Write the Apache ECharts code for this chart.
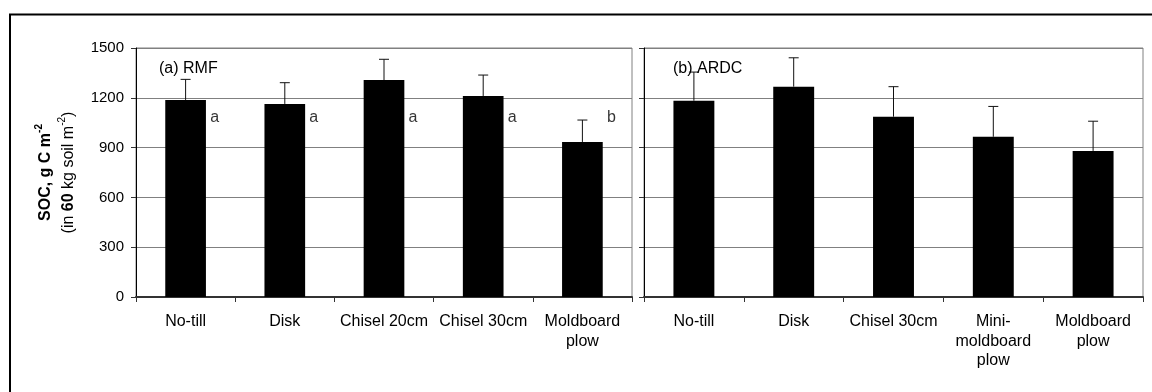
<!DOCTYPE html>
<html>
<head>
<meta charset="utf-8">
<script src="https://cdn.jsdelivr.net/npm/echarts@6/dist/echarts.min.js"></script>
<style>
  html, body { margin: 0; padding: 0; background: #fff; }
  #chart { width: 1152px; height: 392px; }
</style>
</head>
<body>
<div id="chart"></div>
<script>
// Soil organic carbon under different tillage systems, two sites
const tillageRMF = ['No-till', 'Disk', 'Chisel 20cm', 'Chisel 30cm', 'Moldboard\nplow'];
const tillageARDC = ['No-till', 'Disk', 'Chisel 30cm', 'Mini-\nmoldboard\nplow', 'Moldboard\nplow'];

// mean SOC (g C m-2) and upper error
const socRMF = [1187, 1163, 1307, 1211, 934];
const errRMF = [124, 128, 125, 126, 132];
const socARDC = [1182, 1267, 1086, 965, 880];
const errARDC = [173, 174, 181, 183, 179];

// mean-separation letters (RMF only)
const lettersRMF = ['a', 'a', 'a', 'a', 'b'];

const yMin = 0, yMax = 1500, yStep = 300;
const panelTitles = ['(a) RMF', '(b) ARDC'];

const FONT = 'Liberation Sans, Arial, sans-serif';
const chart = echarts.init(document.getElementById('chart'));

function errorBarSeries(axisIdx, means, errs) {
  return {
    type: 'custom',
    xAxisIndex: axisIdx, yAxisIndex: axisIdx,
    z: 3,
    silent: true,
    data: means.map((m, i) => [i, m, m + errs[i]]),
    renderItem(params, api) {
      const base = api.coord([api.value(0), api.value(1)]);
      const top = api.coord([api.value(0), api.value(2)]);
      const half = 5;
      return {
        type: 'group',
        children: [
          { type: 'line', shape: { x1: base[0], y1: base[1], x2: top[0], y2: top[1] },
            style: { stroke: '#111', lineWidth: 1 } },
          { type: 'line', shape: { x1: top[0] - half, y1: top[1], x2: top[0] + half, y2: top[1] },
            style: { stroke: '#111', lineWidth: 1 } }
        ]
      };
    }
  };
}

function xAxisFor(idx, cats) {
  return {
    type: 'category', gridIndex: idx, data: cats,
    axisLine: { lineStyle: { color: '#333', width: 2 } },
    axisTick: { show: true, length: 5, lineStyle: { color: '#333' } },
    axisLabel: { color: '#000', fontFamily: FONT, fontSize: 16, margin: 15, lineHeight: 19.5, interval: 0 }
  };
}

function yAxisFor(idx) {
  return {
    type: 'value', gridIndex: idx, min: yMin, max: yMax, interval: yStep,
    axisLine: { show: true, lineStyle: { color: '#000', width: 1 } },
    axisTick: { show: true, length: 5, lineStyle: { color: '#333' } },
    splitLine: { show: true, lineStyle: { color: '#808080', width: 1 } },
    axisLabel: { show: idx === 0, color: '#000', fontFamily: FONT, fontSize: 15, margin: 12,
      formatter: v => String(v) }
  };
}

const titleText = { fontFamily: FONT, fontSize: 16, fontWeight: 'normal', color: '#000' };

const option = {
  animation: false,
  backgroundColor: '#fff',
  graphic: [{
    type: 'rect', silent: true, z: 0,
    shape: { x: 10, y: 14.5, width: 1200, height: 500 },
    style: { fill: 'none', stroke: '#000', lineWidth: 2 }
  }],
  title: [
    { text: panelTitles[0], left: 159, top: 61, padding: 0, textStyle: titleText },
    { text: panelTitles[1], left: 673, top: 61, padding: 0, textStyle: titleText }
  ],
  grid: [
    { left: 136, top: 48, width: 496, height: 249, show: true, borderColor: '#808080', borderWidth: 1 },
    { left: 644, top: 48, width: 499, height: 249, show: true, borderColor: '#808080', borderWidth: 1 }
  ],
  xAxis: [xAxisFor(0, tillageRMF), xAxisFor(1, tillageARDC)],
  yAxis: [
    Object.assign(yAxisFor(0), {
      name: '{b|SOC, g C m}{bs|-2}\n{n|(in }{b|60}{n| kg soil m}{s|-2}{n|)}',
      nameLocation: 'middle', nameRotate: 90, nameGap: 56,
      nameTextStyle: {
        fontFamily: FONT, color: '#000', lineHeight: 23,
        rich: {
          b: { fontFamily: FONT, fontSize: 16, fontWeight: 'bold', color: '#000' },
          bs: { fontFamily: FONT, fontSize: 10, fontWeight: 'bold', color: '#000', verticalAlign: 'top', padding: [0, 0, 8, 0] },
          n: { fontFamily: FONT, fontSize: 16, color: '#000' },
          s: { fontFamily: FONT, fontSize: 10, color: '#000', verticalAlign: 'top', padding: [0, 0, 8, 0] }
        }
      }
    }),
    yAxisFor(1)
  ],
  series: [
    { type: 'bar', xAxisIndex: 0, yAxisIndex: 0, data: socRMF, barWidth: '41%',
      itemStyle: { color: '#000' }, z: 2 },
    errorBarSeries(0, socRMF, errRMF),
    { type: 'scatter', xAxisIndex: 0, yAxisIndex: 0, symbolSize: 0, z: 4,
      data: lettersRMF.map((t, i) => [i, 1080]),
      label: { show: true, position: 'inside', offset: [29, 0], color: '#000',
        fontFamily: FONT, fontSize: 16, formatter: p => lettersRMF[p.dataIndex] } },
    { type: 'bar', xAxisIndex: 1, yAxisIndex: 1, data: socARDC, barWidth: '41%',
      itemStyle: { color: '#000' }, z: 2 },
    errorBarSeries(1, socARDC, errARDC)
  ]
};

chart.setOption(option);
</script>
</body>
</html>
